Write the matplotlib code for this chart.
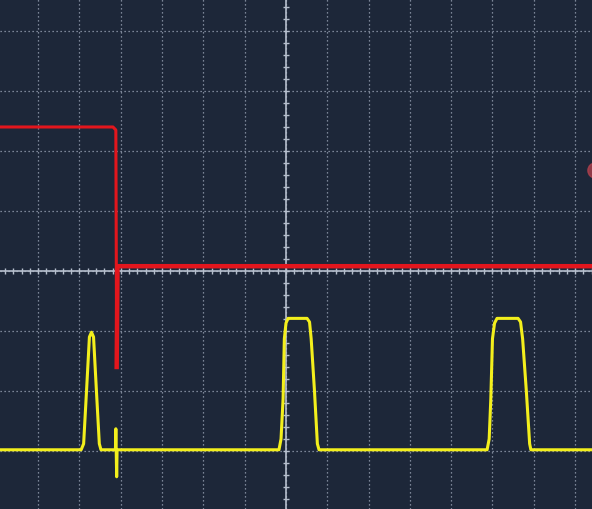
import matplotlib.pyplot as plt
from matplotlib.ticker import MultipleLocator

ch1_t = [-6.93, -4.96, -4.90, -4.83, -4.76, -4.71, -4.66, -4.59, -4.52, -4.48, -4.13, -4.12, -4.10, -4.09,
         -0.17, -0.12, -0.07, -0.04, 0.00, 0.05, 0.51, 0.57, 0.61, 0.69, 0.76, 0.80,
         4.87, 4.92, 4.96, 5.00, 5.05, 5.11, 5.62, 5.68, 5.73, 5.82, 5.90, 5.93, 7.41]
ch1_v = [-2.98, -2.98, -2.88, -2.00, -1.10, -1.02, -1.10, -2.00, -2.88, -2.98, -2.98, -2.63, -3.43, -2.98,
         -2.98, -2.80, -2.13, -1.13, -0.87, -0.79, -0.79, -0.85, -1.13, -2.00, -2.88, -2.98,
         -2.98, -2.80, -2.13, -1.13, -0.87, -0.79, -0.79, -0.85, -1.13, -2.00, -2.88, -2.98, -2.98]

ch2_t = [-6.93, -4.19, -4.12, -4.10, -4.08, 7.41]
ch2_v = [2.40, 2.40, 2.35, -1.60, 0.08, 0.08]

# marqueur de niveau (coupe au bord droit)
marker_t = [7.49]
marker_v = [1.68]

x_lim = (-6.925, 7.41)
y_lim = (-3.967, 4.533)

bg = '#1d2739'
grid_col = '#9aa4b5'
axis_col = '#b6bfcd'

fig = plt.figure(figsize=(5.92, 5.10), dpi=100)
fig.patch.set_facecolor(bg)
ax = fig.add_axes([0, 0, 1, 1])
ax.set_facecolor(bg)
ax.set_xlim(*x_lim)
ax.set_ylim(*y_lim)

# grille pointillee
ax.xaxis.set_major_locator(MultipleLocator(1))
ax.yaxis.set_major_locator(MultipleLocator(1))
ax.xaxis.set_minor_locator(MultipleLocator(0.2))
ax.yaxis.set_minor_locator(MultipleLocator(0.2))
ax.grid(True, which='major', color=grid_col, linewidth=0.9, linestyle=(0, (1.0, 2.2)))

# axes centraux avec graduations
for side in ['top', 'right']:
    ax.spines[side].set_visible(False)
ax.spines['bottom'].set_position('zero')
ax.spines['left'].set_position('zero')
for side in ['bottom', 'left']:
    ax.spines[side].set_color(axis_col)
    ax.spines[side].set_linewidth(1.2)
ax.tick_params(which='both', direction='inout', length=5, width=1.0, color=axis_col,
               labelbottom=False, labelleft=False)

# traces
ax.plot(ch2_t[:4], ch2_v[:4], color='#e3161d', linewidth=2.2, zorder=3)
ax.plot(ch2_t[3:], ch2_v[3:], color='#e3161d', linewidth=3.2, zorder=3)
ax.plot(ch1_t, ch1_v, color='#f3ef1c', linewidth=2.2, zorder=4)
ax.plot(marker_t, marker_v, 'o', color='#b0404c', alpha=0.8, markersize=11, zorder=2)

fig.savefig('out.png', dpi=100, facecolor=bg)
